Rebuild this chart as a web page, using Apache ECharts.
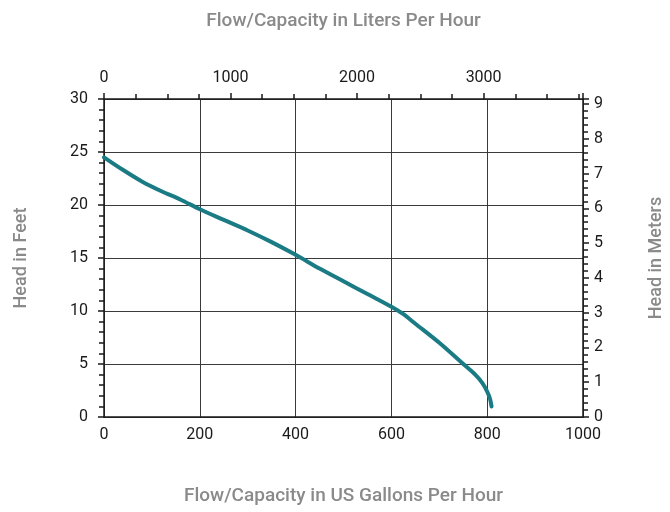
<!DOCTYPE html>
<html>
<head>
<meta charset="utf-8">
<script src="https://cdn.jsdelivr.net/npm/echarts@6/dist/echarts.min.js"></script>
<style>
    html, body { margin: 0; padding: 0; background: #fff; }
    #chartarea { width: 670px; height: 512px; }
</style>
</head>
<body>
<div id="chartarea"></div>
<script>
//pump curve data
var gph = [0, 40, 80, 120, 160, 200, 250, 300, 350, 400, 450, 500, 550, 600, 625, 650, 700, 750, 775, 790, 800, 806, 809];
var headFt = [24.5, 23.3, 22.2, 21.3, 20.5, 19.6, 18.6, 17.6, 16.5, 15.3, 14.0, 12.8, 11.6, 10.4, 9.7, 8.8, 7.0, 5.0, 4.0, 3.2, 2.4, 1.7, 1.0];

//axis ranges
var gphMax = 1000;
var ftMax = 30;
var litersMax = gphMax * 3.78541; //1 US gallon = 3.78541 L
var metersMax = ftMax * 0.3048;

var fontName = "Roboto, 'Noto Sans', sans-serif";
var titleColor = '#8a8a8a';
var labelColor = '#1a1a1a';

//plain numbers, no thousands comma
function plain(v) {
    return String(Math.round(v));
}

//build points
var points = [];
for (var i = 0; i < gph.length; i++) {
    points.push([gph[i], headFt[i]]);
}

var chart = echarts.init(document.getElementById('chartarea'));

var titleStyle = { color: titleColor, fontSize: 19, fontWeight: 500, fontFamily: fontName };
var sideTitleStyle = { color: titleColor, fontSize: 18, fontWeight: 500, fontFamily: fontName };
var labelStyle = { color: labelColor, fontSize: 16, fontFamily: fontName };
var axisLineStyle = { color: '#1a1a1a', width: 1.5 };

var option = {
    animation: false,
    grid: {
        left: 104,
        right: 87,
        top: 99,
        bottom: 95,
        outerBoundsMode: 'none' //keep the plot box where it is
    },
    xAxis: [{
        //bottom: gallons
        type: 'value',
        position: 'bottom',
        min: 0,
        max: gphMax,
        interval: 200,
        name: 'Flow/Capacity in US Gallons Per Hour',
        nameLocation: 'middle',
        nameGap: 70,
        nameTextStyle: titleStyle,
        axisLine: { show: true, onZero: false, lineStyle: axisLineStyle },
        axisTick: { show: false },
        minorTick: { show: false },
        axisLabel: Object.assign({ margin: 10, formatter: plain }, labelStyle),
        splitLine: { show: true, lineStyle: { color: '#3a3a3a', width: 1 } }
    }, {
        //top: liters
        type: 'value',
        position: 'top',
        min: 0,
        max: litersMax,
        interval: 1000,
        name: 'Flow/Capacity in Liters Per Hour',
        nameLocation: 'middle',
        nameGap: 68,
        nameTextStyle: titleStyle,
        axisLine: { show: true, onZero: false, lineStyle: axisLineStyle },
        axisTick: { show: true, length: 6, lineStyle: axisLineStyle },
        minorTick: { show: true, splitNumber: 4, length: 5, lineStyle: axisLineStyle },
        axisLabel: Object.assign({ margin: 13, showMaxLabel: false, formatter: plain }, labelStyle),
        splitLine: { show: false }
    }],
    yAxis: [{
        //left: feet
        type: 'value',
        position: 'left',
        min: 0,
        max: ftMax,
        interval: 5,
        name: 'Head in Feet',
        nameLocation: 'middle',
        nameGap: 74,
        nameTextStyle: sideTitleStyle,
        axisLine: { show: true, onZero: false, lineStyle: axisLineStyle },
        axisTick: { show: true, length: 6, lineStyle: axisLineStyle },
        minorTick: { show: true, splitNumber: 5, length: 5, lineStyle: axisLineStyle },
        axisLabel: Object.assign({ margin: 16, formatter: plain }, labelStyle),
        splitLine: { show: true, lineStyle: { color: '#3a3a3a', width: 1 } }
    }, {
        //right: meters
        type: 'value',
        position: 'right',
        min: 0,
        max: metersMax,
        interval: 1,
        name: 'Head in Meters',
        nameLocation: 'middle',
        nameGap: 64,
        nameTextStyle: sideTitleStyle,
        axisLine: { show: true, onZero: false, lineStyle: axisLineStyle },
        axisTick: { show: true, length: 6, lineStyle: axisLineStyle },
        minorTick: { show: true, splitNumber: 5, length: 5, lineStyle: axisLineStyle },
        axisLabel: Object.assign({ margin: 11, showMaxLabel: false, formatter: plain }, labelStyle),
        splitLine: { show: false }
    }],
    series: [{
        type: 'line',
        xAxisIndex: 0,
        yAxisIndex: 0,
        data: points,
        smooth: 0.3,
        showSymbol: false,
        lineStyle: { color: '#1b7b85', width: 4, cap: 'round' }
    }]
};

chart.setOption(option);
</script>
</body>
</html>
